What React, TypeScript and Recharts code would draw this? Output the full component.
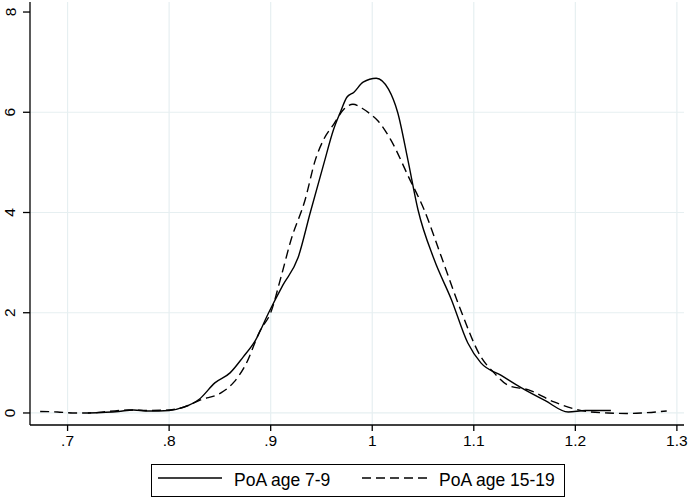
import { CartesianGrid, Legend, Line, LineChart, XAxis, YAxis } from "recharts"

// PoA age 7-9 (solid)
const youngX = [0.72, 0.75, 0.765, 0.78, 0.8, 0.815, 0.83, 0.845, 0.86, 0.873, 0.885, 0.898, 0.912, 0.927, 0.939, 0.952, 0.962, 0.969, 0.975, 0.982, 0.991, 1.004, 1.016, 1.025, 1.035, 1.045, 1.061, 1.078, 1.094, 1.107, 1.127, 1.147, 1.17, 1.193, 1.21, 1.235]
const youngY = [0.0, 0.03, 0.06, 0.04, 0.05, 0.12, 0.28, 0.6, 0.8, 1.12, 1.45, 2.0, 2.55, 3.1, 4.0, 4.95, 5.66, 6.02, 6.3, 6.4, 6.6, 6.68, 6.46, 6.0, 5.06, 4.06, 3.06, 2.26, 1.4, 1.0, 0.75, 0.5, 0.25, 0.02, 0.05, 0.05]

// PoA age 15-19 (dashed)
const olderX = [0.673, 0.69, 0.705, 0.72, 0.74, 0.76, 0.78, 0.8, 0.815, 0.831, 0.851, 0.864, 0.875, 0.89, 0.9, 0.91, 0.92, 0.934, 0.944, 0.952, 0.962, 0.972, 0.981, 0.99, 0.999, 1.006, 1.018, 1.036, 1.051, 1.068, 1.087, 1.107, 1.12, 1.134, 1.154, 1.179, 1.199, 1.215, 1.232, 1.25, 1.265, 1.29]
const olderY = [0.03, 0.02, 0.0, 0.0, 0.03, 0.06, 0.05, 0.06, 0.12, 0.26, 0.4, 0.62, 0.95, 1.66, 2.0, 2.7, 3.45, 4.26, 5.05, 5.45, 5.76, 6.06, 6.16, 6.08, 5.95, 5.82, 5.46, 4.7, 4.06, 3.12, 2.06, 1.12, 0.8, 0.55, 0.46, 0.22, 0.08, 0.02, 0.0, -0.01, 0.0, 0.04]

const xTicks = [0.7, 0.8, 0.9, 1.0, 1.1, 1.2, 1.3]
const xTickLabels = ['.7', '.8', '.9', '1', '1.1', '1.2', '1.3']
const yTicks = [0, 2, 4, 6, 8]
const gridY = [0, 2, 4, 6]

const seriesNames = ['PoA age 7-9', 'PoA age 15-19']

const young = youngX.map((x, i) => ({ x, y: youngY[i] }))
const older = olderX.map((x, i) => ({ x, y: olderY[i] }))

const font = '"Liberation Sans", Arial, sans-serif'

const XTick = ({ x, y, payload }: any) => {
    const i = xTicks.indexOf(payload.value)
    return (
        <text x={x} y={y + 12.5} textAnchor="middle" fontSize={15.5} fontFamily={font} fill="#000">
            {i >= 0 ? xTickLabels[i] : payload.value}
        </text>
    )
}

const YTick = ({ x, y, payload }: any) => {
    const tx = x - 5.5
    return (
        <text x={tx} y={y} transform={`rotate(-90 ${tx} ${y})`} textAnchor="middle" fontSize={15.5} fontFamily={font} fill="#000">
            {payload.value}
        </text>
    )
}

// legend box, drawn at the bottom like Stata's
const LegendBox = () => (
    <div style={{ width: 412, height: 31, border: '1px solid #000', background: '#fff' }}>
        <svg width={412} height={31} style={{ display: 'block' }}>
            <line x1={6} x2={70} y1={13} y2={13} stroke="#000" strokeWidth={1.4} />
            <text x={82} y={21} fontSize={17.5} fontFamily={font} fill="#000">{seriesNames[0]}</text>
            <line x1={210} x2={275} y1={13} y2={13} stroke="#000" strokeWidth={1.4} strokeDasharray="9 5" />
            <text x={287} y={21} fontSize={17.5} fontFamily={font} fill="#000">{seriesNames[1]}</text>
        </svg>
    </div>
)

const App = () => {
    return (
        <div style={{ position: 'absolute', left: 0, top: 0, background: '#fff' }}>
            <LineChart width={688} height={498} margin={{ top: 2, right: 4, bottom: 10, left: 0 }}>
                <CartesianGrid stroke="#e6eff1" strokeWidth={1.2} horizontalValues={gridY} verticalValues={xTicks} />
                <XAxis
                    type="number"
                    dataKey="x"
                    domain={[0.663, 1.307]}
                    allowDataOverflow
                    ticks={xTicks}
                    tick={<XTick />}
                    tickSize={6}
                    height={30}
                    stroke="#000"
                    strokeWidth={1.3}
                />
                <YAxis
                    type="number"
                    dataKey="y"
                    domain={[-0.24, 8.2]}
                    allowDataOverflow
                    ticks={yTicks}
                    tick={<YTick />}
                    tickSize={7}
                    width={30}
                    stroke="#000"
                    strokeWidth={1.3}
                />
                <Legend
                    verticalAlign="bottom"
                    layout="horizontal"
                    content={<LegendBox />}
                    wrapperStyle={{ left: 151, bottom: 1, width: 414, height: 33 }}
                />
                <Line
                    data={young}
                    dataKey="y"
                    name={seriesNames[0]}
                    type="monotone"
                    stroke="#000"
                    strokeWidth={1.4}
                    dot={false}
                    isAnimationActive={false}
                />
                <Line
                    data={older}
                    dataKey="y"
                    name={seriesNames[1]}
                    type="monotone"
                    stroke="#000"
                    strokeWidth={1.4}
                    strokeDasharray="9 5"
                    dot={false}
                    isAnimationActive={false}
                />
            </LineChart>
        </div>
    )
}

export default App
